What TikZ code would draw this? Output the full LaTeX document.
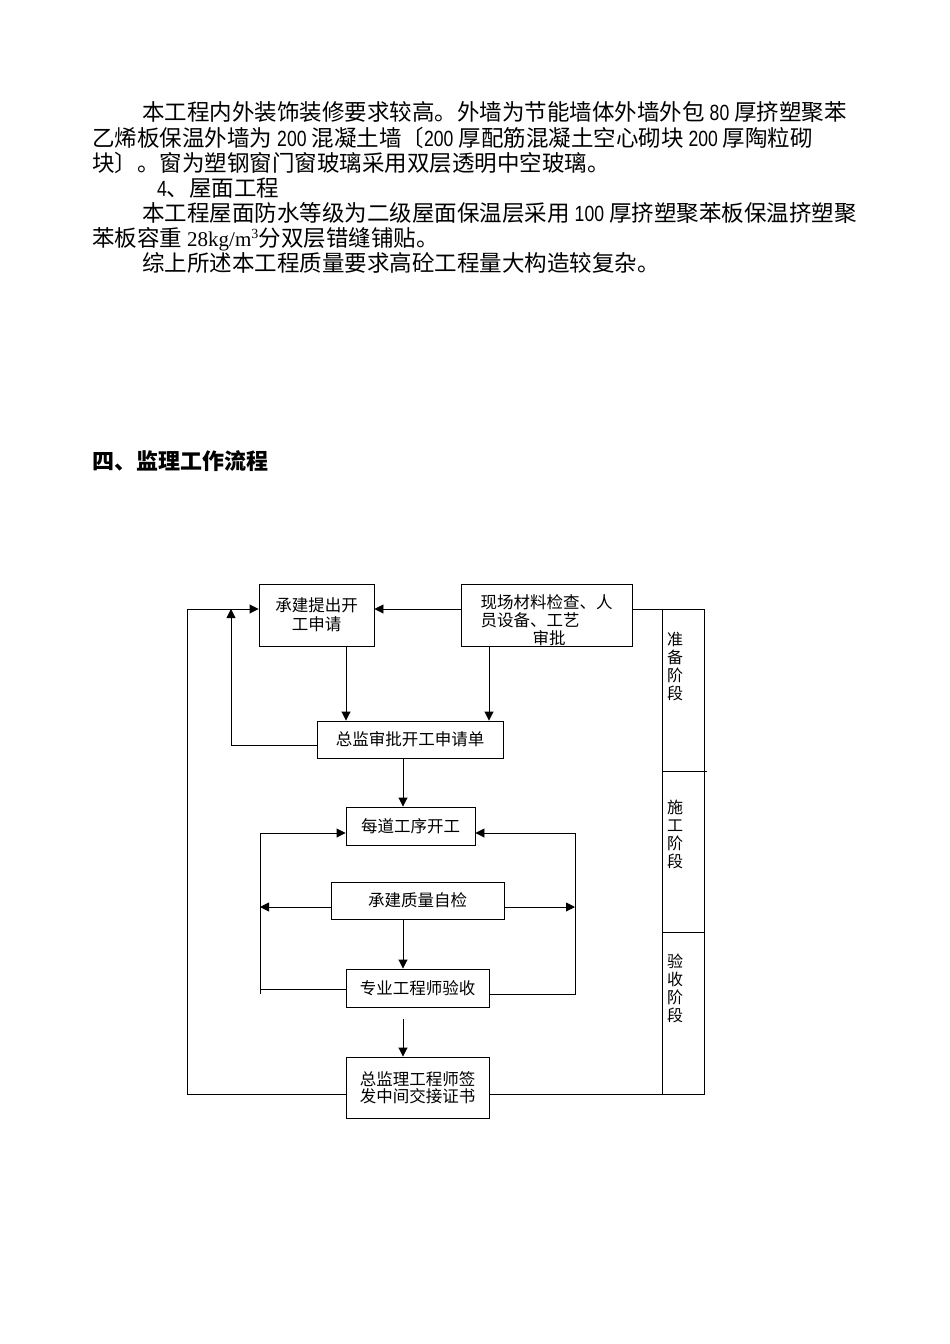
\documentclass[tikz,border=0pt]{standalone}
\usepackage{fontspec}
\setmainfont{Liberation Serif}
\newfontfamily\cjk{Noto Sans CJK SC}
\newfontfamily\lsans{Liberation Sans}[FakeStretch=0.8]
\usetikzlibrary{arrows.meta}
\newcommand\numf[1]{{\lsans\fontsize{22}{25}\selectfont #1}}
\newcommand\serf[1]{{\rmfamily\fontsize{21}{25}\selectfont #1}}
\begin{document}
\begin{tikzpicture}[x=1pt,y=-1pt,
  box/.style={draw, line width=0.9pt, inner sep=0pt, align=center,
    font=\cjk\fontsize{16.5}{19}\selectfont},
  arr/.style={-{Triangle[length=9pt,width=9pt]}, line width=0.9pt},
  ln/.style={line width=0.9pt},
  body/.style={anchor=base west, inner sep=0pt, font=\cjk\fontsize{22.5}{25}\selectfont},
  stage/.style={inner sep=0pt, align=center, font=\cjk\fontsize{16}{18}\selectfont}]
\useasboundingbox (0,0) rectangle (950,1344);
\fill[white] (0,0) rectangle (950,1344);

% body text
\node[body] (t1) at (142,120) {本工程内外装饰装修要求较高。外墙为节能墙体外墙外包 \numf{80} 厚挤塑聚苯};
\node[body] (t2) at (92,146) {乙烯板保温外墙为 \numf{200} 混凝土墙〔\numf{200} 厚配筋混凝土空心砌块 \numf{200} 厚陶粒砌};
\node[body] (t3) at (92,171) {块〕。窗为塑钢窗门窗玻璃采用双层透明中空玻璃。};
\node[body] (t4) at (157,196) {\numf{4}、屋面工程};
\node[body] (t5) at (142,221) {本工程屋面防水等级为二级屋面保温层采用 \numf{100} 厚挤塑聚苯板保温挤塑聚};
\node[body] (t6) at (92,246) {苯板容重 \serf{28kg/m\textsuperscript{\fontsize{14}{14}\selectfont 3}}分双层错缝铺贴。};
\node[body] (t7) at (142,271) {综上所述本工程质量要求高砼工程量大构造较复杂。};

\node[body, font=\cjk\bfseries\fontsize{22}{25}\selectfont] (h) at (92,469) {四、监理工作流程};

% boxes
\node[box, minimum width=115pt, minimum height=62pt] (A) at (316.5,615) {承建提出开\\工申请};
\node[box, minimum width=171pt, minimum height=62pt] (B) at (546.5,615) {};
\node[inner sep=0pt, align=left, font=\cjk\fontsize{16.5}{18}\selectfont] (Bt) at (546.5,620)
  {现场材料检查、人\\员设备、工艺\\\hspace*{52pt}审批};
\node[box, minimum width=186pt, minimum height=37pt] (C) at (410,739.5) {总监审批开工申请单};
\node[box, minimum width=129pt, minimum height=38pt] (D) at (410.5,826) {每道工序开工};
\node[box, minimum width=173pt, minimum height=37pt] (E) at (417.5,900.5) {承建质量自检};
\node[box, minimum width=143pt, minimum height=38pt] (F) at (417.5,988) {专业工程师验收};
\node[box, minimum width=143pt, minimum height=61pt, font=\cjk\fontsize{16.5}{17}\selectfont] (G) at (417.5,1087.5) {总监理工程师签\\发中间交接证书};

% helper coordinates
\coordinate (pTL) at (187,609);
\coordinate (pBL) at (187,1094);
\coordinate (pTR) at (704,609);
\coordinate (pBR) at (704,1094);
\coordinate (cTL) at (662,609);
\coordinate (cBL) at (662,1094);
\coordinate (xa) at (346,0);
\coordinate (xb) at (489,0);
\coordinate (xm) at (403,0);
\coordinate (up1) at (231,745);
\coordinate (up2) at (231,609);
\coordinate (qLT) at (260,833);
\coordinate (qLB) at (260,989);
\coordinate (qLBt) at (260,994);
\coordinate (qRT) at (575,833);
\coordinate (qRB) at (575,994);
\coordinate (eL) at (260,907);
\coordinate (eR) at (575,907);
\coordinate (fg) at (403,1019);

% connectors
\draw[arr] (B.west |- pTL) -- (A.east |- pTL);
\draw[arr] (G.west |- pBL) -- (pBL) -- (pTL) -- (A.west |- pTL);
\draw[ln] (B.east |- pTR) -- (pTR) -- (pBR) -- (G.east |- pBR);
\draw[arr] (A.south -| xa) -- (C.north -| xa);
\draw[arr] (B.south -| xb) -- (C.north -| xb);
\draw[arr] (C.west |- up1) -- (up1) -- (up2);
\draw[arr] (C.south -| xm) -- (D.north -| xm);
\draw[ln] (F.west |- qLB) -- (qLB);
\draw[arr] (qLBt) -- (qLT) -- (D.west |- qLT);
\draw[arr] (F.east |- qRB) -- (qRB) -- (qRT) -- (D.east |- qRT);
\draw[arr] (E.west |- eL) -- (eL);
\draw[arr] (E.east |- eR) -- (eR);
\draw[arr] (E.south -| xm) -- (F.north -| xm);
\draw[arr] (fg) -- (G.north -| xm);

% stage column
\draw[ln] (cTL) -- (cBL);
\draw[ln] (662,771) -- (707,771);
\draw[ln] (662,932) -- (704,932);
\node[stage] (s1) at (675,666) {准\\备\\阶\\段};
\node[stage] (s2) at (675,834) {施\\工\\阶\\段};
\node[stage] (s3) at (675,988) {验\\收\\阶\\段};
\end{tikzpicture}
\end{document}
